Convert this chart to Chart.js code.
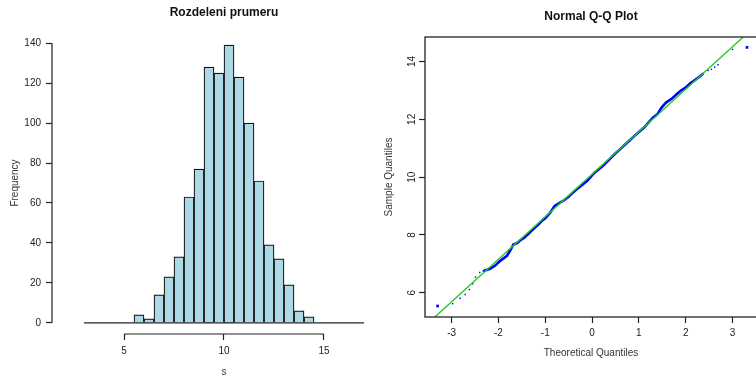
<!DOCTYPE html>
<html>
<head>
<meta charset="utf-8">
<script src="https://cdn.jsdelivr.net/npm/chart.js@4.4.0/dist/chart.umd.min.js"></script>
<style>
html, body { margin: 0; padding: 0; background: #fff; overflow: hidden; width: 756px; height: 376px; }
#hist { position: absolute; left: 0; top: 0; }
#qq { position: absolute; left: 378px; top: 0; }
</style>
</head>
<body>
<canvas id="hist" width="400" height="376"></canvas>
<canvas id="qq" width="400" height="376"></canvas>
<script>
// histogram of the sample means
var breaks = [3, 3.5, 4, 4.5, 5, 5.5, 6, 6.5, 7, 7.5, 8, 8.5, 9, 9.5, 10, 10.5,
              11, 11.5, 12, 12.5, 13, 13.5, 14, 14.5, 15, 15.5, 16, 16.5, 17];
var counts = [0, 0, 0, 0, 0, 4, 2, 14, 23, 33, 63, 77, 128, 125, 139, 123,
              100, 71, 39, 32, 19, 6, 3, 0, 0, 0, 0, 0];
var histTicksX = [5, 10, 15];
var histTicksY = [0, 20, 40, 60, 80, 100, 120, 140];

// normal Q-Q plot
var qqX = [-2.32, -2.18, -2.07, -1.98, -1.90, -1.82, -1.75, -1.68, -1.60, -1.54, -1.45, -1.36, -1.25,
           -1.15, -1.05, -1.00, -0.90, -0.80, -0.70, -0.60, -0.51, -0.40, -0.30, -0.20, -0.10, -0.02,
           0.05, 0.15, 0.25, 0.35, 0.49, 0.60, 0.70, 0.80, 0.90, 1.00, 1.10, 1.20, 1.30, 1.40,
           1.48, 1.58, 1.70, 1.80, 1.90, 1.99, 2.10, 2.19, 2.30, 2.37];
var qqY = [6.75, 6.83, 6.94, 7.08, 7.18, 7.28, 7.46, 7.67, 7.72, 7.81, 7.90, 8.04, 8.21,
           8.36, 8.52, 8.58, 8.76, 9.00, 9.10, 9.20, 9.31, 9.48, 9.62, 9.75, 9.88, 10.03,
           10.15, 10.28, 10.42, 10.58, 10.81, 10.97, 11.12, 11.27, 11.42, 11.56, 11.70, 11.88, 12.06, 12.18,
           12.40, 12.58, 12.71, 12.86, 13.00, 13.09, 13.25, 13.35, 13.48, 13.58];
var tailX = [-3.30, -2.98, -2.82, -2.71, -2.62, -2.55, -2.49, -2.40, 2.48, 2.55, 2.62, 2.69, 3.00, 3.31];
var tailY = [5.54, 5.62, 5.81, 5.94, 6.11, 6.31, 6.54, 6.70, 13.69, 13.73, 13.81, 13.89, 14.42, 14.49];
var lineX = [-3.36, 3.23];
var lineY = [5.16, 14.85];
var qqTicksX = [-3, -2, -1, 0, 1, 2, 3];
var qqTicksY = [6, 8, 10, 12, 14];

var FONT = '"Liberation Sans", Arial, Helvetica, sans-serif';
Chart.defaults.font.family = FONT;
Chart.defaults.font.size = 10;
Chart.defaults.color = '#222';

function pairs(xs, ys) {
  return xs.map(function (x, i) { return { x: x, y: ys[i] }; });
}

// title drawn over the middle of the plot area
var mainTitle = {
  id: 'mainTitle',
  afterDraw: function (chart, args, opts) {
    var ctx = chart.ctx, a = chart.chartArea;
    ctx.save();
    ctx.font = 'bold 12px ' + FONT;
    ctx.fillStyle = '#111';
    ctx.textAlign = 'center';
    ctx.textBaseline = 'middle';
    ctx.fillText(opts.text, (a.left + a.right) / 2, opts.y);
    ctx.restore();
  }
};

// R style axis lines that only span the tick range
var rAxes = {
  id: 'rAxes',
  afterDatasetsDraw: function (chart, args, opts) {
    var ctx = chart.ctx, a = chart.chartArea;
    var sx = chart.scales.x, sy = chart.scales.y;
    ctx.save();
    ctx.strokeStyle = '#222';
    ctx.lineWidth = 1.2;
    ctx.beginPath();
    ctx.moveTo(a.left, sy.getPixelForValue(opts.y[0]));
    ctx.lineTo(a.left, sy.getPixelForValue(opts.y[1]));
    ctx.moveTo(sx.getPixelForValue(opts.x[0]), a.bottom);
    ctx.lineTo(sx.getPixelForValue(opts.x[1]), a.bottom);
    ctx.stroke();
    ctx.restore();
  }
};

var boxAround = {
  id: 'boxAround',
  afterDatasetsDraw: function (chart) {
    var ctx = chart.ctx, a = chart.chartArea;
    ctx.save();
    ctx.strokeStyle = '#222';
    ctx.lineWidth = 1.3;
    ctx.strokeRect(a.left, a.top, a.right - a.left, a.bottom - a.top);
    ctx.restore();
  }
};

function fixedTicks(list) {
  return function (scale) {
    scale.ticks = list.map(function (v) { return { value: v }; });
  };
}

var tickGrid = { offset: false, drawOnChartArea: false, drawTicks: true, tickLength: 6, tickColor: '#222', tickWidth: 1.2 };

var histBars = counts.map(function (c, i) {
  return { x: (breaks[i] + breaks[i + 1]) / 2, y: c };
});

new Chart(document.getElementById('hist'), {
  type: 'bar',
  data: {
    datasets: [{
      type: 'line',
      data: [{ x: breaks[0], y: 0 }, { x: breaks[breaks.length - 1], y: 0 }],
      borderColor: '#222',
      borderWidth: 1.2,
      pointRadius: 0
    }, {
      data: histBars,
      backgroundColor: '#add8e6',
      borderColor: '#111',
      borderWidth: 1.2,
      barPercentage: 1,
      categoryPercentage: 1
    }]
  },
  options: {
    responsive: false,
    animation: false,
    events: [],
    layout: { padding: { top: 32, right: 4, left: 0, bottom: 0 } },
    plugins: {
      legend: { display: false },
      tooltip: { enabled: false },
      mainTitle: { text: 'Rozdeleni prumeru', y: 13 },
      rAxes: { x: [5, 15], y: [0, 140] }
    },
    scales: {
      x: {
        type: 'linear', min: 1.4, max: 18.6, offset: false,
        afterBuildTicks: fixedTicks(histTicksX),
        afterFit: function (s) { s.height = 42; },
        border: { display: false },
        grid: tickGrid,
        ticks: { padding: 5, maxRotation: 0 },
        title: { display: true, text: 's', color: '#333', padding: { top: 0, bottom: -2 } }
      },
      y: {
        min: -5.6, max: 145.6,
        afterBuildTicks: fixedTicks(histTicksY),
        afterFit: function (s) { s.width = 52; },
        border: { display: false },
        grid: tickGrid,
        ticks: { padding: 5 },
        title: { display: true, text: 'Frequency', color: '#333', padding: { top: 9, bottom: 0 } }
      }
    }
  },
  plugins: [mainTitle, rAxes]
});

new Chart(document.getElementById('qq'), {
  type: 'scatter',
  data: {
    datasets: [{
      data: pairs(lineX, lineY),
      showLine: true,
      borderColor: '#22cc22',
      borderWidth: 1.4,
      pointRadius: 0
    }, {
      data: pairs(qqX, qqY),
      showLine: true,
      borderColor: '#0000ff',
      borderWidth: 2.6,
      backgroundColor: '#0000ff',
      pointStyle: 'rect',
      pointRadius: 1.2,
      pointBorderWidth: 0
    }, {
      data: pairs(tailX, tailY),
      backgroundColor: '#0000ff',
      pointStyle: 'rect',
      pointRadius: tailX.map(function (x, i) { return (i === 0 || i === tailX.length - 1) ? 1.9 : 1; }),
      pointBorderWidth: 0
    }]
  },
  options: {
    responsive: false,
    animation: false,
    events: [],
    layout: { padding: { top: 37, right: 21, left: 0, bottom: 0 } },
    plugins: {
      legend: { display: false },
      tooltip: { enabled: false },
      mainTitle: { text: 'Normal Q-Q Plot', y: 17 }
    },
    scales: {
      x: {
        type: 'linear', min: -3.57, max: 3.524,
        afterBuildTicks: fixedTicks(qqTicksX),
        afterFit: function (s) { s.height = 59; },
        border: { display: false },
        grid: tickGrid,
        ticks: { padding: 4, maxRotation: 0 },
        title: { display: true, text: 'Theoretical Quantiles', color: '#333', padding: { top: 0, bottom: 17 } }
      },
      y: {
        type: 'linear', min: 5.16, max: 14.85,
        afterBuildTicks: fixedTicks(qqTicksY),
        afterFit: function (s) { s.width = 47; },
        border: { display: false },
        grid: tickGrid,
        ticks: { padding: 1, minRotation: 90, maxRotation: 90, crossAlign: 'center' },
        title: { display: true, text: 'Sample Quantiles', color: '#333', padding: { top: 5, bottom: 0 } }
      }
    }
  },
  plugins: [mainTitle, boxAround]
});
</script>
</body>
</html>
